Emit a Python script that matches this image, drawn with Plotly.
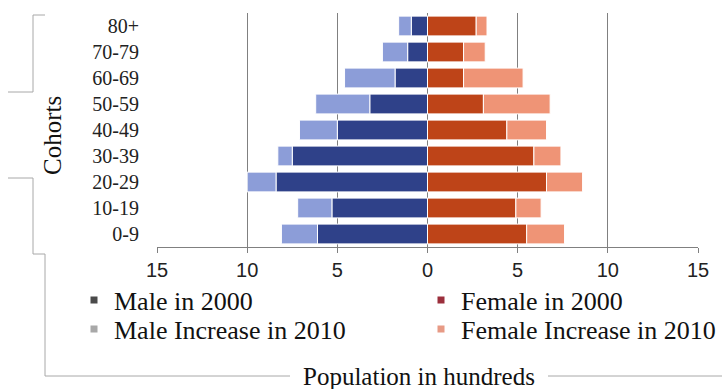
import plotly.graph_objects as go

# Age cohorts (bottom to top) and population values in hundreds
cohorts = ["0-9", "10-19", "20-29", "30-39", "40-49", "50-59", "60-69", "70-79", "80+"]
male_2000 = [6.1, 5.3, 8.4, 7.5, 5.0, 3.2, 1.8, 1.1, 0.9]
male_increase_2010 = [2.0, 1.9, 1.6, 0.8, 2.1, 3.0, 2.8, 1.4, 0.7]
female_2000 = [5.5, 4.9, 6.6, 5.9, 4.4, 3.1, 2.0, 2.0, 2.7]
female_increase_2010 = [2.1, 1.4, 2.0, 1.5, 2.2, 3.7, 3.3, 1.2, 0.6]

tick_values = [-15, -10, -5, 0, 5, 10, 15]
tick_labels = ["15", "10", "5", "0", "5", "10", "15"]

W, H = 722, 389
L, R, T, B = 157, 698, 13, 247  # plot area in pixels


def px_x(x):
    return (x - L) / (R - L)


def px_y(y):
    return (B - y) / (B - T)


SERIF = "Liberation Serif, Times New Roman, serif"
SANS = "Liberation Sans Narrow, Arial Narrow, Liberation Sans, sans-serif"

bar_line = dict(color="white", width=1)

fig = go.Figure()
fig.add_trace(go.Bar(y=cohorts, x=[-v for v in male_2000], orientation="h",
                     marker=dict(color="#2F4189", line=bar_line), showlegend=False))
fig.add_trace(go.Bar(y=cohorts, x=[-v for v in male_increase_2010], orientation="h",
                     marker=dict(color="#8C9DD8", line=bar_line), showlegend=False))
fig.add_trace(go.Bar(y=cohorts, x=female_2000, orientation="h",
                     marker=dict(color="#BE4418", line=bar_line), showlegend=False))
fig.add_trace(go.Bar(y=cohorts, x=female_increase_2010, orientation="h",
                     marker=dict(color="#EF9476", line=bar_line), showlegend=False))

# legend swatches, one legend box per entry for a two-column layout
legend_items = [
    ("Male in 2000", "#4a4a4a", "legend", 74, 300),
    ("Female in 2000", "#9b2f3c", "legend2", 421, 300),
    ("Male Increase in 2010", "#a8a8a8", "legend3", 74, 329),
    ("Female Increase in 2010", "#e79a85", "legend4", 421, 329),
]
legend_layout = {}
for name, color, legend_id, lx, ly in legend_items:
    fig.add_trace(go.Scatter(x=[None], y=[None], mode="markers", name=name,
                             legend=legend_id, showlegend=True,
                             marker=dict(symbol="square", size=7, color=color)))
    legend_layout[legend_id] = dict(
        x=px_x(lx), y=px_y(ly), xanchor="left", yanchor="middle",
        orientation="h", itemwidth=30, bgcolor="rgba(0,0,0,0)",
        font=dict(family=SERIF, size=26, color="#111"))

# frame segments around the chart
frame_color = "#a8a8a8"
segments = [
    (33, 15, 45, 15), (33, 15, 33, 92), (8, 92, 33, 92),
    (8, 178, 33, 178), (33, 178, 33, 254), (33, 254, 45, 254),
    (45, 254, 45, 376), (45, 376, 290, 376), (548, 376, 722, 376),
]
shapes = [dict(type="line", xref="paper", yref="paper",
               x0=px_x(a), y0=px_y(b), x1=px_x(c), y1=px_y(d),
               line=dict(color=frame_color, width=1)) for a, b, c, d in segments]

fig.update_layout(
    width=W, height=H,
    margin=dict(l=L, r=W - R, t=T, b=H - B, autoexpand=False),
    paper_bgcolor="white", plot_bgcolor="white",
    barmode="relative", bargap=0.24,
    shapes=shapes,
    xaxis=dict(range=[-15, 15], tickvals=tick_values, ticktext=tick_labels,
               showgrid=True, gridcolor="#808080", gridwidth=1,
               zeroline=True, zerolinecolor="#808080", zerolinewidth=1,
               showline=True, linecolor="#808080", linewidth=1,
               ticks="outside", ticklen=5, tickcolor="#808080",
               tickfont=dict(family=SANS, size=20, color="#222"),
               fixedrange=True),
    yaxis=dict(type="category", categoryorder="array", categoryarray=cohorts,
               showgrid=False, zeroline=False, showline=False, ticks="",
               ticklabelstandoff=17,
               tickfont=dict(family=SERIF, size=20, color="#222"),
               fixedrange=True),
    annotations=[
        dict(text="Population in hundreds", xref="paper", yref="paper",
             x=px_x(419), y=px_y(376), xanchor="center", yanchor="middle",
             showarrow=False, font=dict(family=SERIF, size=25, color="#111")),
        dict(text="Cohorts", xref="paper", yref="paper", textangle=-90,
             x=px_x(52), y=px_y(136), xanchor="center", yanchor="middle",
             showarrow=False, font=dict(family=SERIF, size=25, color="#111")),
    ],
    **legend_layout,
)

fig.write_html("out.html")
